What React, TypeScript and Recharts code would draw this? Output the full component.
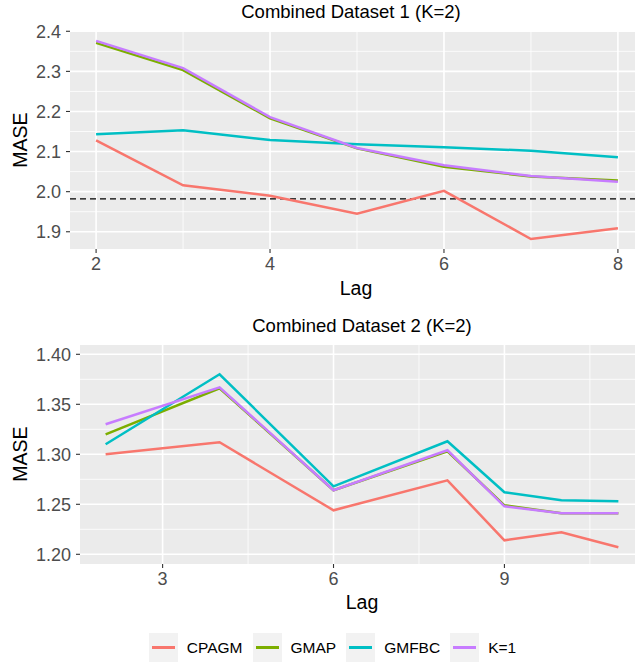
import React from "react";
import { LineChart, Line, XAxis, YAxis, CartesianGrid, ReferenceLine } from "recharts";

// ---- Data ----
const seriesNames = ["CPAGM", "GMAP", "GMFBC", "K=1"];
const seriesColors = ["#F8766D", "#7CAE00", "#00BFC4", "#C77CFF"];

const topLags = [2, 3, 4, 5, 6, 7, 8];
const topCPAGM = [2.128, 2.016, 1.99, 1.945, 2.002, 1.882, 1.909];
const topGMAP = [2.371, 2.303, 2.183, 2.108, 2.062, 2.038, 2.028];
const topGMFBC = [2.143, 2.153, 2.129, 2.118, 2.111, 2.102, 2.086];
const topK1 = [2.376, 2.308, 2.186, 2.109, 2.066, 2.039, 2.025];
const topBaseline = 1.982;
const topXTicks = [2, 4, 6, 8];
const topXMinor = [3, 5, 7];
const topYTicks = [1.9, 2.0, 2.1, 2.2, 2.3, 2.4];
const topYMinor = [1.95, 2.05, 2.15, 2.25, 2.35];

const botLags = [2, 4, 6, 8, 9, 10, 11];
const botCPAGM = [1.3, 1.312, 1.244, 1.274, 1.214, 1.222, 1.207];
const botGMAP = [1.32, 1.366, 1.264, 1.303, 1.249, 1.241, 1.241];
const botGMFBC = [1.31, 1.38, 1.268, 1.313, 1.262, 1.254, 1.253];
const botK1 = [1.33, 1.367, 1.264, 1.304, 1.248, 1.241, 1.241];
const botXTicks = [3, 6, 9];
const botXMinor = [4.5, 7.5, 10.5];
const botYTicks = [1.2, 1.25, 1.3, 1.35, 1.4];
const botYMinor = [1.225, 1.275, 1.325, 1.375];

const FONT = "'Liberation Sans', Arial, Helvetica, sans-serif";

function buildRows(lags: number[], cols: number[][]) {
  return lags.map((lag, i) => {
    const row: any = { lag };
    seriesNames.forEach((n, j) => (row[n] = cols[j][i]));
    return row;
  });
}

const topData = buildRows(topLags, [topCPAGM, topGMAP, topGMFBC, topK1]);
const botData = buildRows(botLags, [botCPAGM, botGMAP, botGMFBC, botK1]);

const tickStyle = { fill: "#4D4D4D", fontSize: 18, fontFamily: FONT };

function Panel(props: {
  data: any[];
  width: number;
  height: number;
  marginTop: number;
  xAxisHeight: number;
  yAxisWidth: number;
  xDomain: [number, number];
  yDomain: [number, number];
  xTicks: number[];
  xMinor: number[];
  yTicks: number[];
  yMinor: number[];
  yDigits: number;
  baseline?: number;
}) {
  const p = props;
  return (
    <LineChart
      width={p.width}
      height={p.height}
      data={p.data}
      margin={{ top: p.marginTop, right: 0, bottom: 0, left: 0 }}
    >
      <CartesianGrid
        fill="#EBEBEB"
        stroke="#FFFFFF"
        strokeWidth={0.8}
        horizontalValues={p.yMinor}
        verticalValues={p.xMinor}
      />
      <CartesianGrid
        stroke="#FFFFFF"
        strokeWidth={1.6}
        horizontalValues={p.yTicks}
        verticalValues={p.xTicks}
      />
      <XAxis
        dataKey="lag"
        type="number"
        domain={p.xDomain}
        ticks={p.xTicks}
        allowDataOverflow
        height={p.xAxisHeight}
        axisLine={false}
        tickLine={{ stroke: "#333333", strokeWidth: 1.1 }}
        tickSize={4}
        tickMargin={4}
        tick={tickStyle}
      />
      <YAxis
        type="number"
        domain={p.yDomain}
        ticks={p.yTicks}
        allowDataOverflow
        width={p.yAxisWidth}
        axisLine={false}
        tickLine={{ stroke: "#333333", strokeWidth: 1.1 }}
        tickSize={4}
        tickMargin={5}
        tick={tickStyle}
        tickFormatter={(v: number) => v.toFixed(p.yDigits)}
      />
      {p.baseline !== undefined && (
        <ReferenceLine
          y={p.baseline}
          stroke="#000000"
          strokeWidth={1.4}
          strokeDasharray="6 4"
          ifOverflow="extendDomain"
        />
      )}
      {seriesNames.map((n, i) => (
        <Line
          key={n}
          type="linear"
          dataKey={n}
          stroke={seriesColors[i]}
          strokeWidth={2.5}
          dot={false}
          activeDot={false}
          isAnimationActive={false}
        />
      ))}
    </LineChart>
  );
}

const textAbs = (top: number, left: number, size: number, rotate?: boolean): React.CSSProperties => ({
  position: "absolute",
  top,
  left,
  fontFamily: FONT,
  fontSize: size,
  color: "#000",
  whiteSpace: "nowrap",
  transform: rotate ? "translate(-50%, -50%) rotate(-90deg)" : "translate(-50%, -50%)",
  lineHeight: 1,
});

export default function App() {
  return (
    <div
      style={{
        position: "absolute",
        left: 0,
        top: 0,
        width: 635,
        height: 663,
        overflow: "hidden",
        background: "#FFFFFF",
      }}
    >
      <div style={{ position: "absolute", left: 0, top: 0 }}>
        <Panel
          data={topData}
          width={644}
          height={300}
          marginTop={31}
          xAxisHeight={51}
          yAxisWidth={70}
          xDomain={[1.7, 8.3]}
          yDomain={[1.857, 2.4007]}
          xTicks={topXTicks}
          xMinor={topXMinor}
          yTicks={topYTicks}
          yMinor={topYMinor}
          yDigits={1}
          baseline={topBaseline}
        />
      </div>
      <div style={{ position: "absolute", left: 0, top: 300 }}>
        <Panel
          data={botData}
          width={644}
          height={300}
          marginTop={45}
          xAxisHeight={36}
          yAxisWidth={80}
          xDomain={[1.55, 11.45]}
          yDomain={[1.1903, 1.4093]}
          xTicks={botXTicks}
          xMinor={botXMinor}
          yTicks={botYTicks}
          yMinor={botYMinor}
          yDigits={2}
        />
      </div>

      <div style={textAbs(12, 351, 18.5)}>Combined Dataset 1 (K=2)</div>
      <div style={textAbs(326, 362, 18.5)}>Combined Dataset 2 (K=2)</div>
      <div style={textAbs(289, 356, 19.5)}>Lag</div>
      <div style={textAbs(603, 362, 19.5)}>Lag</div>
      <div style={textAbs(140, 21, 19.5, true)}>MASE</div>
      <div style={textAbs(454, 21, 19.5, true)}>MASE</div>

      <div
        style={{
          position: "absolute",
          top: 633,
          left: 0,
          width: 665,
          height: 29,
          display: "flex",
          justifyContent: "center",
          alignItems: "center",
          fontFamily: FONT,
          fontSize: 15.5,
          color: "#000",
        }}
      >
        {seriesNames.map((n, i) => (
          <div key={n} style={{ display: "flex", alignItems: "center", marginRight: i < seriesNames.length - 1 ? 10 : 0 }}>
            <div
              style={{
                width: 29,
                height: 29,
                background: "#F2F2F2",
                display: "flex",
                alignItems: "center",
                justifyContent: "center",
              }}
            >
              <div style={{ width: 23, height: 2.6, background: seriesColors[i] }} />
            </div>
            <span style={{ marginLeft: 9 }}>{n}</span>
          </div>
        ))}
      </div>
    </div>
  );
}
